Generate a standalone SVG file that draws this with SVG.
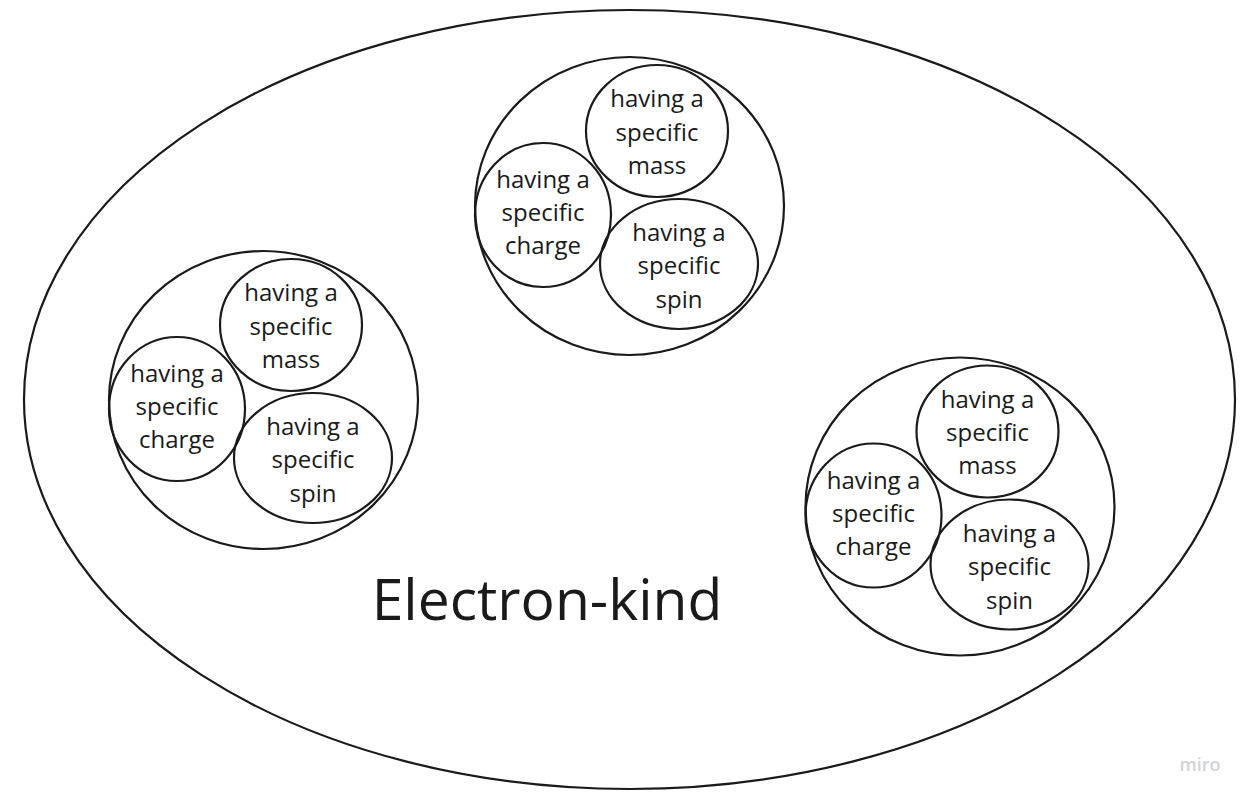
<svg xmlns="http://www.w3.org/2000/svg" width="1249" height="800" viewBox="0 0 1249 800">
<style>
.s{fill:none;stroke:#1a1a1a;stroke-width:2.2}
.t{font-family:"Open Sans","Liberation Sans",sans-serif;font-size:24px;fill:#1a1a1a;text-anchor:middle}
.big{font-family:"Open Sans","Liberation Sans",sans-serif;font-size:57px;fill:#1a1a1a;text-anchor:middle}
.wm{font-family:"Open Sans","Liberation Sans",sans-serif;font-size:18px;font-weight:600;fill:#d3d3d8;text-anchor:middle}
</style>
<rect width="1249" height="800" fill="#ffffff"/>
<g id="electron-kind">
<ellipse class="s" cx="629.5" cy="399.5" rx="605.5" ry="389.5"/>
<text class="big" x="547" y="620">Electron-kind</text>
</g>
<g id="electron1" transform="translate(629.5,206)">
<ellipse class="s" cx="0" cy="0" rx="154.5" ry="149"/>
<g id="e1-mass"><ellipse class="s" cx="27.5" cy="-75" rx="71" ry="66"/>
<text class="t" x="27.5" y="-99">having a</text><text class="t" x="27.5" y="-65.5">specific</text><text class="t" x="27.5" y="-32.5">mass</text></g>
<g id="e1-charge"><ellipse class="s" cx="-86.5" cy="9" rx="68" ry="72"/>
<text class="t" x="-86.5" y="-18">having a</text><text class="t" x="-86.5" y="15">specific</text><text class="t" x="-86.5" y="48">charge</text></g>
<g id="e1-spin"><ellipse class="s" cx="49.5" cy="58" rx="79" ry="65"/>
<text class="t" x="49.5" y="35">having a</text><text class="t" x="49.5" y="68">specific</text><text class="t" x="49.5" y="102">spin</text></g>
</g>
<g id="electron2" transform="translate(263.5,400)">
<ellipse class="s" cx="0" cy="0" rx="154.5" ry="149"/>
<g id="e2-mass"><ellipse class="s" cx="27.5" cy="-75" rx="71" ry="66"/>
<text class="t" x="27.5" y="-99">having a</text><text class="t" x="27.5" y="-65.5">specific</text><text class="t" x="27.5" y="-32.5">mass</text></g>
<g id="e2-charge"><ellipse class="s" cx="-86.5" cy="9" rx="68" ry="72"/>
<text class="t" x="-86.5" y="-18">having a</text><text class="t" x="-86.5" y="15">specific</text><text class="t" x="-86.5" y="48">charge</text></g>
<g id="e2-spin"><ellipse class="s" cx="49.5" cy="58" rx="79" ry="65"/>
<text class="t" x="49.5" y="35">having a</text><text class="t" x="49.5" y="68">specific</text><text class="t" x="49.5" y="102">spin</text></g>
</g>
<g id="electron3" transform="translate(960,506.5)">
<ellipse class="s" cx="0" cy="0" rx="154.5" ry="149"/>
<g id="e3-mass"><ellipse class="s" cx="27.5" cy="-75" rx="71" ry="66"/>
<text class="t" x="27.5" y="-99">having a</text><text class="t" x="27.5" y="-65.5">specific</text><text class="t" x="27.5" y="-32.5">mass</text></g>
<g id="e3-charge"><ellipse class="s" cx="-86.5" cy="9" rx="68" ry="72"/>
<text class="t" x="-86.5" y="-18">having a</text><text class="t" x="-86.5" y="15">specific</text><text class="t" x="-86.5" y="48">charge</text></g>
<g id="e3-spin"><ellipse class="s" cx="49.5" cy="58" rx="79" ry="65"/>
<text class="t" x="49.5" y="35">having a</text><text class="t" x="49.5" y="68">specific</text><text class="t" x="49.5" y="102">spin</text></g>
</g>
<g id="connectors"></g>
<text class="wm" x="1200" y="771">miro</text>
</svg>
